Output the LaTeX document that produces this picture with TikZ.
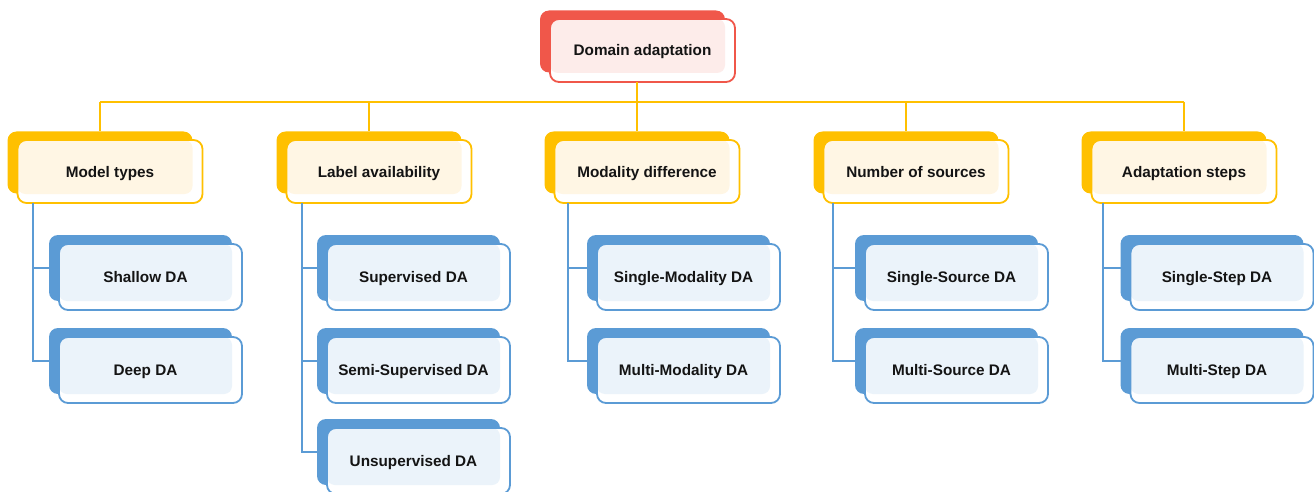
\documentclass[tikz,border=0pt]{standalone}
\usepackage{fontspec}
\setmainfont{Liberation Sans}
\usepackage{tikz}
\usetikzlibrary{positioning, calc}

\definecolor{rootline}{HTML}{F0574A}
\definecolor{roottint}{HTML}{FDECEA}
\definecolor{catline}{HTML}{FFC000}
\definecolor{cattint}{HTML}{FFF6E4}
\definecolor{leafline}{HTML}{5B9BD5}
\definecolor{leaftint}{HTML}{EBF3FA}

\tikzset{
  backbox/.style={rectangle, rounded corners=9pt, outer sep=0pt, fill=#1line, minimum width=185pt, minimum height=62pt},
  frontbox/.style={rectangle, rounded corners=9pt, outer sep=0pt, line width=1.8pt, draw=#1line, fill=white,
    minimum width=185pt, minimum height=63pt, text height=11pt, text depth=0pt,
    font=\fontsize{15.3pt}{18pt}\selectfont\bfseries, text=black!92,
    path picture={\fill[#1tint, rounded corners=8pt] (path picture bounding box.north west) rectangle ([shift={(-10pt,9pt)}]path picture bounding box.south east);}},
  leafsize/.style={minimum width=183pt, minimum height=66pt, execute at begin node={\hspace*{-10pt}}},
  busline/.style={draw=catline, line width=2pt},
  branchline/.style={draw=leafline, line width=2pt},
}

% back plate first, framed front box on top
\newcommand{\dabox}[5][]{%
  \node[backbox=#2, #1] (#3-b) at ([shift={(-10pt,9pt)}]#4) {};
  \node[frontbox=#2, #1] (#3) at (#4) {#5};
}

\begin{document}
\begin{tikzpicture}[x=1pt, y=-1pt]
  \useasboundingbox (0,0) rectangle (1314,492);

  \dabox{root}{root}{642.5,50.5}{Domain adaptation}

  \dabox{cat}{model}{110,171.5}{Model types}
  \dabox{cat}{label}{379,171.5}{Label availability}
  \dabox{cat}{modal}{647,171.5}{Modality difference}
  \dabox{cat}{source}{916,171.5}{Number of sources}
  \dabox{cat}{steps}{1184,171.5}{Adaptation steps}

  \dabox[leafsize]{leaf}{shallow}{150.5,277}{Shallow DA}
  \dabox[leafsize]{leaf}{deep}{150.5,370}{Deep DA}
  \dabox[leafsize]{leaf}{sup}{418.5,277}{Supervised DA}
  \dabox[leafsize]{leaf}{semi}{418.5,370}{Semi-Supervised DA}
  \dabox[leafsize]{leaf}{unsup}{418.5,461}{Unsupervised DA}
  \dabox[leafsize]{leaf}{smod}{688.5,277}{Single-Modality DA}
  \dabox[leafsize]{leaf}{mmod}{688.5,370}{Multi-Modality DA}
  \dabox[leafsize]{leaf}{ssrc}{956.5,277}{Single-Source DA}
  \dabox[leafsize]{leaf}{msrc}{956.5,370}{Multi-Source DA}
  \dabox[leafsize]{leaf}{sstep}{1222,277}{Single-Step DA}
  \dabox[leafsize]{leaf}{mstep}{1222,370}{Multi-Step DA}

  % top level bus
  \coordinate (bus) at (637,102);
  \draw[busline] (root.south -| bus) -- (bus);
  \draw[busline] (model-b.north |- bus) -- (steps.north |- bus);
  \foreach \c in {model-b, label-b, modal-b, source-b}
    \draw[busline] (\c.north |- bus) -- (\c.north);
  \draw[busline] (steps.north |- bus) -- (steps.north |- steps-b.north);

  % branches to the leaves
  \foreach \l in {shallow, deep}
    \draw[branchline] ([xshift=15.5pt]model.south west) |- (\l-b.west);
  \foreach \l in {sup, semi, unsup}
    \draw[branchline] ([xshift=15.5pt]label.south west) |- (\l-b.west);
  \foreach \l in {smod, mmod}
    \draw[branchline] ([xshift=13.5pt]modal.south west) |- (\l-b.west);
  \foreach \l in {ssrc, msrc}
    \draw[branchline] ([xshift=9.5pt]source.south west) |- (\l-b.west);
  \foreach \l in {sstep, mstep}
    \draw[branchline] ([xshift=11.5pt]steps.south west) |- (\l-b.west);
\end{tikzpicture}
\end{document}
